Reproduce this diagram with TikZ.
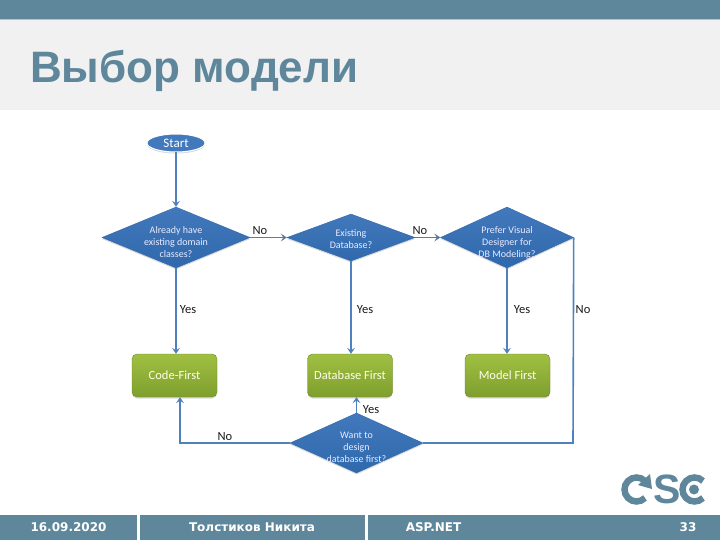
\documentclass[tikz,border=0pt]{standalone}
\usepackage{fontspec}
\setmainfont{Carlito}
\newfontfamily\titlefont{Liberation Sans}
\newfontfamily\footfont{DejaVu Sans}
\usetikzlibrary{arrows.meta,positioning,calc,shapes.geometric,shadows}
\definecolor{slateblue}{HTML}{5F879C}
\definecolor{titlebg}{HTML}{F1F1F2}
\definecolor{flowblue}{HTML}{4F81BD}
\definecolor{diamondtop}{HTML}{4279BC}
\definecolor{diamondlow}{HTML}{2F68AC}
\definecolor{greentop}{HTML}{A0BF42}
\definecolor{greenlow}{HTML}{7F9F2E}
\definecolor{labelgrey}{HTML}{1A1A1A}
\newcommand{\lowlines}[2]{\raisebox{#1}[0pt][0pt]{\begin{tabular}{@{}c@{}}#2\end{tabular}}}
\tikzset{
  questionbox/.style={diamond,draw=diamondlow,top color=diamondtop,bottom color=diamondlow,
    drop shadow={shadow xshift=0pt,shadow yshift=-1.5pt,opacity=0.3},
    inner sep=0pt,aspect=2.3,text=white!92!blue,font=\fontsize{10}{12}\selectfont},
  resultbox/.style={draw=greenlow!85!black,top color=greentop,bottom color=greenlow,
    rounded corners=5pt,minimum width=85pt,minimum height=43pt,text=white!92!yellow,
    drop shadow={shadow xshift=0pt,shadow yshift=-1.5pt,opacity=0.3},font=\fontsize{12.5}{14}\selectfont},
  flowarrow/.style={-{Stealth[length=6pt,width=8pt,inset=2.5pt]},line width=1.6pt,draw=flowblue},
  sidearrow/.style={-{Stealth[length=6pt,width=8pt,inset=2.5pt]},line width=0.9pt,draw=flowblue!70!black!80},
  flowline/.style={line width=1.6pt,draw=flowblue},
  flowlabel/.style={font=\fontsize{12.5}{14}\selectfont,text=labelgrey,inner sep=0pt},
  footbar/.style={fill=slateblue,draw=none,minimum height=25pt,inner sep=0pt,text=white,
    font=\footfont\bfseries\fontsize{12}{14}\selectfont},
  footlabel/.style={text=white,inner sep=0pt,font=\footfont\bfseries\fontsize{12}{14}\selectfont},
  logostroke/.style={line width=6.5pt,draw=slateblue}
}
\begin{document}
\begin{tikzpicture}[x=1pt,y=-1pt]
  \useasboundingbox (0,0) rectangle (720,540);
  % header
  \fill[slateblue] (0,0) rectangle (720,19);
  \fill[slateblue!50!white] (0,19) rectangle (720,20);
  \fill[titlebg] (0,20) rectangle (720,110);
  \node[anchor=base west,inner sep=0pt,text=slateblue,font=\titlefont\bfseries\fontsize{44}{50}\selectfont] (title) at (30,83) {Выбор модели};
  % flow
  \node[ellipse,draw=white,line width=1pt,fill=diamondtop,minimum width=58pt,minimum height=18pt,inner sep=0pt,text=white,
    drop shadow={shadow xshift=0pt,shadow yshift=-1.5pt,opacity=0.3},font=\fontsize{13}{14}\selectfont] (start) at (176,143) {Start};
  \node[questionbox,minimum width=148pt,minimum height=61pt] (domain) at (176,237.5) {\lowlines{-8.5pt}{Already have\\existing domain\\classes?}};
  \node[questionbox,minimum width=128pt,minimum height=47pt] (existing) at (351,237.5) {\lowlines{-5.5pt}{Existing\\Database?}};
  \node[questionbox,minimum width=133pt,minimum height=61pt] (visual) at (507,237.5) {\lowlines{-8.5pt}{Prefer Visual\\Designer for\\DB Modeling?}};
  \node[questionbox,minimum width=133pt,minimum height=60pt] (design) at (356.5,443) {\lowlines{-8pt}{Want to\\design\\database first?}};
  \node[resultbox] (code) at (174.5,375.5) {Code-First};
  \node[resultbox] (dbfirst) at (350,375.5) {Database First};
  \node[resultbox] (model) at (507.5,375.5) {Model First};
  \coordinate (corner) at (573,443);
  \draw[flowarrow] (start) -- (start |- domain.north);
  \draw[sidearrow] (domain.east) -- (existing.west);
  \draw[sidearrow] (existing.east) -- (visual.west);
  \draw[flowarrow] (domain.south) -- (domain.south |- code.north);
  \draw[flowarrow] (existing.south) -- (existing.south |- dbfirst.north);
  \draw[flowarrow] (visual.south) -- (visual.south |- model.north);
  \draw[flowarrow] (design.north) -- (design.north |- dbfirst.south);
  \draw[flowarrow] (design.west) -| ($(code.south)+(5.5,0)$);
  \draw[flowline] (visual.east) -- (corner) -- (design.east);
  % labels
  \node[flowlabel] (no1) at (260,231) {No};
  \node[flowlabel] (no2) at (420,231) {No};
  \node[flowlabel] (yes1) at (188,310) {Yes};
  \node[flowlabel] (yes2) at (365,310) {Yes};
  \node[flowlabel] (yes3) at (522,310) {Yes};
  \node[flowlabel] (no3) at (583,310) {No};
  \node[flowlabel] (yes4) at (371,410) {Yes};
  \node[flowlabel] (no4) at (225,437) {No};
  % logo
  \draw[logostroke] (645,481) arc[start angle=45,end angle=315,radius=12pt];
  \fill[slateblue] (650,474) -- (652,489) -- (638,485) -- cycle;
  \node[text=slateblue,inner sep=0pt,font=\titlefont\bfseries\fontsize{41}{46}\selectfont] (logo) at (667,489.5) {S};
  \draw[logostroke] (703,481) arc[start angle=45,end angle=315,radius=12pt];
  \fill[slateblue] (694,489.5) circle[radius=5pt];
  % footer
  \node[footbar,minimum width=137pt] (date) at (68.5,527.5) {16.09.2020};
  \node[footbar,minimum width=225pt] (author) at (252,527.5) {Толстиков Никита};
  \node[footbar,minimum width=352pt] (topic) at (544,527.5) {};
  \node[footlabel] (course) at (433.5,527.5) {ASP.NET};
  \node[footlabel] (page) at (688,527.5) {33};
\end{tikzpicture}
\end{document}
